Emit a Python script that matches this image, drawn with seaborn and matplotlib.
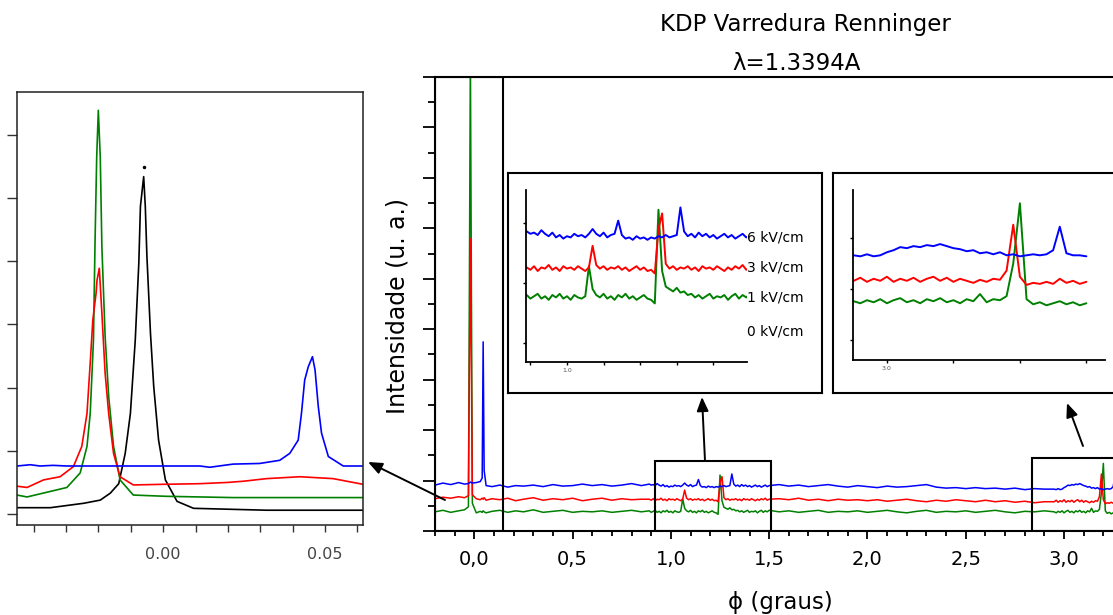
import matplotlib
matplotlib.use('Agg')
import matplotlib.pyplot as plt
import seaborn as sns
from matplotlib.patches import Rectangle, FancyArrowPatch
from matplotlib.ticker import MultipleLocator, FixedLocator

# ---- Renninger scan, phi in degrees, intensity in arbitrary units ----
phi = [-0.20, -0.16, -0.12, -0.08, -0.05, -0.03, -0.02, -0.01, 0.01, 0.03,
       0.04, 0.045, 0.05, 0.06, 0.09, 0.13, 0.17, 0.21, 0.25, 0.30,
       0.35, 0.40, 0.45, 0.50, 0.55, 0.60, 0.65, 0.70, 0.75, 0.80, 0.85,
       0.89, 0.90, 0.91, 0.92, 0.93, 0.94, 0.95, 0.96, 0.97, 0.98,
       0.99, 1.00, 1.01, 1.02, 1.03, 1.04, 1.05, 1.06, 1.07, 1.08,
       1.09, 1.10, 1.11, 1.12, 1.13, 1.14, 1.15, 1.16, 1.17, 1.18,
       1.19, 1.20, 1.21, 1.22, 1.23, 1.24, 1.25, 1.26, 1.27, 1.28,
       1.29, 1.30, 1.31, 1.32, 1.33, 1.34, 1.35, 1.36, 1.37, 1.38,
       1.39, 1.40, 1.41, 1.42, 1.43, 1.44, 1.45, 1.46, 1.47, 1.48,
       1.49, 1.50,
       1.55, 1.60, 1.65, 1.70, 1.75, 1.80, 1.85, 1.90, 1.95, 2.00,
       2.05, 2.10, 2.15, 2.20, 2.25, 2.30, 2.35, 2.40, 2.45, 2.50,
       2.55, 2.60, 2.65, 2.70, 2.75, 2.80, 2.85, 2.90,
       2.95, 2.96, 2.97, 2.98, 2.99, 3.00, 3.01, 3.02, 3.03, 3.04,
       3.05, 3.06, 3.07, 3.08, 3.09, 3.10, 3.11, 3.12, 3.13, 3.14,
       3.15, 3.16, 3.17, 3.18, 3.19, 3.20, 3.21, 3.22, 3.23, 3.24,
       3.25, 3.26, 3.27, 3.28, 3.29, 3.30]

blue_6kv = [0.91, 0.95, 0.92, 0.96, 0.93, 0.94, 0.97, 0.95, 0.96, 0.98,
            1.05, 3.75, 1.20, 0.90, 0.88, 0.91, 0.87, 0.90, 0.89, 0.91,
            0.88, 0.92, 0.89, 0.90, 0.93, 0.90, 0.92, 0.89, 0.91, 0.94, 0.90,
            0.93, 0.91, 0.92, 0.90, 0.94, 0.91, 0.89, 0.92, 0.88, 0.90,
            0.87, 0.89, 0.88, 0.91, 0.89, 0.90, 0.88, 0.91, 0.95, 0.91,
            0.89, 0.92, 0.88, 0.90, 0.91, 1.02, 0.90, 0.87, 0.88, 0.86,
            0.89, 0.87, 0.88, 0.86, 0.88, 0.87, 0.89, 0.88, 0.90, 0.88,
            0.89, 0.90, 1.13, 0.93, 0.89, 0.91, 0.88, 0.92, 0.89, 0.91,
            0.88, 0.90, 0.87, 0.89, 0.91, 0.88, 0.90, 0.87, 0.89, 0.91,
            0.88, 0.90,
            0.92, 0.89, 0.91, 0.88, 0.90, 0.92, 0.89, 0.87, 0.90, 0.88,
            0.86, 0.89, 0.87, 0.88, 0.90, 0.92, 0.87, 0.85, 0.86, 0.84,
            0.86, 0.84, 0.85, 0.83, 0.85, 0.82, 0.84, 0.83,
            0.83, 0.82, 0.84, 0.82, 0.83, 0.86, 0.88, 0.91, 0.90, 0.92,
            0.91, 0.93, 0.92, 0.94, 0.92, 0.90, 0.89, 0.87, 0.88, 0.85,
            0.86, 0.84, 0.86, 0.83, 0.84, 0.82, 0.83, 0.84, 0.83, 0.84,
            0.88, 1.11, 0.85, 0.83, 0.83, 0.82]

red_3kv = [0.64, 0.67, 0.65, 0.68, 0.66, 0.70, 5.80, 0.72, 0.64, 0.62,
           0.65, 0.63, 0.66, 0.61, 0.64, 0.62, 0.65, 0.60, 0.63, 0.66,
           0.61, 0.64, 0.62, 0.65, 0.60, 0.63, 0.65, 0.61, 0.64, 0.62, 0.63,
           0.63, 0.61, 0.64, 0.60, 0.63, 0.62, 0.65, 0.61, 0.63, 0.60,
           0.64, 0.62, 0.63, 0.61, 0.64, 0.62, 0.60, 0.63, 0.81, 0.65,
           0.62, 0.64, 0.61, 0.63, 0.62, 0.64, 0.61, 0.63, 0.60, 0.62,
           0.64, 0.61, 0.63, 0.60, 0.61, 0.58, 0.95, 1.08, 0.66, 0.62,
           0.64, 0.61, 0.63, 0.62, 0.64, 0.61, 0.63, 0.60, 0.64, 0.62,
           0.63, 0.61, 0.64, 0.62, 0.60, 0.63, 0.61, 0.64, 0.62, 0.65,
           0.61, 0.63,
           0.64, 0.62, 0.65, 0.61, 0.63, 0.60, 0.63, 0.61, 0.62, 0.60,
           0.62, 0.59, 0.61, 0.63, 0.60, 0.58, 0.61, 0.59, 0.62, 0.60,
           0.58, 0.61, 0.58, 0.60, 0.57, 0.59, 0.56, 0.58,
           0.58, 0.61, 0.57, 0.60, 0.58, 0.62, 0.57, 0.60, 0.58, 0.61,
           0.57, 0.60, 0.62, 0.58, 0.61, 0.57, 0.60, 0.58, 0.56, 0.59,
           0.57, 0.60, 0.59, 0.68, 1.13, 0.62, 0.54, 0.56, 0.55, 0.57,
           0.55, 0.60, 0.56, 0.58, 0.55, 0.57]

green_1kv = [0.38, 0.41, 0.37, 0.40, 0.42, 0.48, 9.50, 0.55, 0.36, 0.39,
             0.37, 0.40, 0.38, 0.36, 0.39, 0.41, 0.37, 0.40, 0.38, 0.42,
             0.37, 0.39, 0.41, 0.37, 0.39, 0.38, 0.40, 0.37, 0.39, 0.41, 0.38,
             0.40, 0.37, 0.39, 0.41, 0.37, 0.39, 0.36, 0.40, 0.38, 0.41,
             0.37, 0.39, 0.36, 0.40, 0.38, 0.37, 0.39, 0.64, 0.45, 0.40,
             0.38, 0.41, 0.37, 0.39, 0.36, 0.40, 0.38, 0.41, 0.37, 0.39,
             0.36, 0.38, 0.40, 0.37, 0.36, 0.33, 1.11, 0.60, 0.47, 0.45,
             0.43, 0.46, 0.42, 0.43, 0.40, 0.41, 0.38, 0.40, 0.37, 0.39,
             0.41, 0.37, 0.39, 0.38, 0.40, 0.36, 0.39, 0.41, 0.37, 0.40,
             0.38, 0.41,
             0.38, 0.40, 0.37, 0.39, 0.41, 0.37, 0.39, 0.38, 0.40, 0.37,
             0.39, 0.41, 0.38, 0.36, 0.39, 0.41, 0.37, 0.39, 0.38, 0.40,
             0.37, 0.39, 0.41, 0.38, 0.36, 0.39, 0.38, 0.40,
             0.38, 0.36, 0.39, 0.37, 0.40, 0.36, 0.39, 0.41, 0.37, 0.39,
             0.36, 0.40, 0.38, 0.41, 0.37, 0.39, 0.36, 0.40, 0.38, 0.45,
             0.37, 0.40, 0.39, 0.43, 0.75, 1.34, 0.40, 0.35, 0.37, 0.34,
             0.36, 0.38, 0.35, 0.37, 0.34, 0.36]

# ---- fine scan around phi = 0 (left panel), incl. 0 kV/cm ----
phi0_blue = [-0.0451, -0.0410, -0.0380, -0.0340, -0.0297, -0.0200, -0.0100, 0.0000,
             0.0113, 0.0144, 0.0216, 0.0298, 0.0360, 0.0391, 0.0417, 0.0427,
             0.0437, 0.0448, 0.0461, 0.0469, 0.0479, 0.0489, 0.0510, 0.0556, 0.0617]
int0_blue = [0.76, 0.78, 0.76, 0.77, 0.76, 0.76, 0.76, 0.76,
             0.76, 0.74, 0.79, 0.80, 0.85, 0.96, 1.17, 1.59,
             2.12, 2.33, 2.49, 2.28, 1.70, 1.28, 0.91, 0.76, 0.76]

phi0_red = [-0.0451, -0.0420, -0.0369, -0.0318, -0.0277, -0.0251, -0.0235, -0.0225,
            -0.0217, -0.0207, -0.0204, -0.0197, -0.0189, -0.0179, -0.0168, -0.0153,
            -0.0133, -0.0092, 0.0000, 0.0113, 0.0200, 0.0250, 0.0319, 0.0422,
            0.0525, 0.0617]
int0_red = [0.44, 0.42, 0.54, 0.59, 0.75, 1.07, 1.59, 2.39,
            3.07, 3.49, 3.70, 3.89, 3.18, 2.23, 1.59, 0.96,
            0.59, 0.46, 0.47, 0.48, 0.50, 0.52, 0.56, 0.59,
            0.56, 0.47]

phi0_green = [-0.0451, -0.0420, -0.0379, -0.0297, -0.0256, -0.0235, -0.0225, -0.0215,
              -0.0210, -0.0205, -0.0200, -0.0194, -0.0189, -0.0179, -0.0168, -0.0153,
              -0.0133, -0.0092, 0.0010, 0.0216, 0.0422, 0.0617]
int0_green = [0.30, 0.27, 0.32, 0.42, 0.65, 1.07, 1.59, 2.75,
              4.34, 5.65, 6.39, 5.65, 4.23, 2.81, 1.86, 1.07,
              0.54, 0.30, 0.28, 0.26, 0.26, 0.26]

phi0_black = [-0.0451, -0.0348, -0.0245, -0.0194, -0.0163, -0.0137, -0.0117, -0.0101,
              -0.0086, -0.0075, -0.0070, -0.0060, -0.0055, -0.0050, -0.0039, -0.0029,
              -0.0014, 0.0007, 0.0043, 0.0094, 0.0319, 0.0617]
int0_black = [0.10, 0.10, 0.17, 0.22, 0.33, 0.48, 0.96, 1.59,
              2.75, 3.97, 4.87, 5.34, 4.87, 4.08, 2.86, 2.02,
              1.17, 0.54, 0.20, 0.09, 0.06, 0.06]

field_labels = ['6 kV/cm', '3 kV/cm', '1 kV/cm', '0 kV/cm']
main_ticks = [0.0, 0.5, 1.0, 1.5, 2.0, 2.5, 3.0]
main_tick_labels = ['0,0', '0,5', '1,0', '1,5', '2,0', '2,5', '3,0']

BLUE, RED, GREEN, BLACK = '#0000ff', '#ff0000', '#008000', '#000000'

sns.set_style('ticks', {'axes.edgecolor': 'black', 'xtick.color': 'black',
                        'ytick.color': 'black', 'text.color': 'black'})
plt.rcParams['font.family'] = ['DejaVu Sans']

W, H = 1113, 615


def box(l, t, r, b):
    # pixel box -> figure fraction [left, bottom, width, height]
    return [l / W, 1 - b / H, (r - l) / W, (b - t) / H]


def series(ax, x, y, color, lw, **kw):
    sns.lineplot(x=x, y=y, ax=ax, color=color, linewidth=lw, estimator=None,
                 sort=False, legend=False, **kw)


fig = plt.figure(figsize=(W / 100, H / 100), dpi=100)

# ---- main panel ----
ax = fig.add_axes(box(435, 77, 1123, 531))
for x_, y_, c in [(phi, green_1kv, GREEN), (phi, red_3kv, RED), (phi, blue_6kv, BLUE)]:
    series(ax, x_, y_, c, 1.1)
ax.set_xlim(-0.2, 3.3)
ax.set_ylim(0, 9)
ax.set_xticks(main_ticks)
ax.set_xticklabels(main_tick_labels, fontsize=14)
ax.xaxis.set_minor_locator(MultipleLocator(0.1))
ax.yaxis.set_major_locator(MultipleLocator(1))
ax.yaxis.set_minor_locator(MultipleLocator(0.5))
ax.tick_params(axis='y', which='major', direction='out', length=8.5, width=1.3, labelleft=False)
ax.tick_params(axis='y', which='minor', direction='out', length=5, width=1.3)
ax.tick_params(axis='x', which='major', direction='out', length=5.8, width=1.3, pad=8)
ax.tick_params(axis='x', which='minor', direction='out', length=3.6, width=1.3)
ax.set_xlabel('')
ax.set_ylabel('')
for s in ax.spines.values():
    s.set_linewidth(1.5)

# zoom boxes on main panel
for (x0, x1, y1) in [(-0.2, 0.145, 9), (0.919, 1.509, 1.39), (2.837, 3.45, 1.45)]:
    ax.add_patch(Rectangle((x0, 0), x1 - x0, y1, fill=False, lw=1.5, ec='black', zorder=5))

fig.text(805 / W, 1 - 25 / H, 'KDP Varredura Renninger', ha='center', va='center', fontsize=16.5)
fig.text(797 / W, 1 - 63 / H, '\u03bb=1.3394A', ha='center', va='center', fontsize=16.5)
fig.text(398 / W, 1 - 306 / H, 'Intensidade (u. a.)', rotation=90, ha='center', va='center', fontsize=17)
fig.text(780 / W, 1 - 603 / H, '\u03d5 (graus)', ha='center', va='center', fontsize=16.5)

# ---- left panel: around phi = 0 ----
axl = fig.add_axes(box(17, 92, 363, 525))
for x_, y_, c in [(phi0_black, int0_black, BLACK), (phi0_green, int0_green, GREEN),
                  (phi0_red, int0_red, RED), (phi0_blue, int0_blue, BLUE)]:
    series(axl, x_, y_, c, 1.2)
axl.plot([-0.0058], [5.49], marker='o', ms=1.5, color=BLACK)
axl.set_xlim(-0.0451, 0.0617)
axl.set_ylim(-0.174, 6.68)
axl.xaxis.set_major_locator(FixedLocator([0.0, 0.05]))
axl.set_xticklabels(['0.00', '0.05'], fontsize=11.5, color='#444444')
axl.xaxis.set_minor_locator(MultipleLocator(0.01))
axl.yaxis.set_major_locator(MultipleLocator(1))
axl.tick_params(axis='x', which='both', direction='out', length=5, width=1, pad=11, color='#333333')
axl.tick_params(axis='y', which='major', direction='out', length=7, width=1, labelleft=False, color='#333333')
for s in axl.spines.values():
    s.set_linewidth(1.1)
    s.set_color('#222222')

# ---- inset frames ----
inner_specs = [
    (box(508, 173, 822, 393), box(526, 190, 747, 362), (0.888, 1.492), (-0.158, 1.275),
     [0.9, 1.0, 1.1, 1.2, 1.3, 1.4], '1.0'),
    (box(833, 173, 1125, 393), box(853, 190, 1105, 360), (2.949, 3.328), (-0.196, 1.47),
     [3.0, 3.1, 3.2, 3.3], '3.0'),
]
inner_axes = []
for frame_box, inner_box, xl, yl, xt, lab in inner_specs:
    fr = fig.add_axes(frame_box)
    fr.set_xticks([])
    fr.set_yticks([])
    for s in fr.spines.values():
        s.set_linewidth(1.5)
    ai = fig.add_axes(inner_box)
    ai.patch.set_alpha(0)
    for x_, y_, c in [(phi, green_1kv, GREEN), (phi, red_3kv, RED), (phi, blue_6kv, BLUE)]:
        series(ai, x_, y_, c, 1.4)
    ai.set_xlim(*xl)
    ai.set_ylim(*yl)
    ai.set_xticks(xt)
    ai.set_xticklabels([lab if abs(t - float(lab)) < 1e-9 else '' for t in xt],
                       fontsize=4.5, color='#555555')
    ai.set_yticks([0, 0.5, 1.0])
    ai.tick_params(axis='both', direction='out', length=2.5, width=1, labelleft=False, pad=2)
    ai.spines['top'].set_visible(False)
    ai.spines['right'].set_visible(False)
    ai.spines['left'].set_linewidth(1.3)
    ai.spines['bottom'].set_linewidth(1.3)
    ai.set_xlabel('')
    ai.set_ylabel('')
    inner_axes.append(ai)

label_y = [0.88, 0.63, 0.38, 0.10]
for lab, yv in zip(field_labels, label_y):
    inner_axes[0].text(1.493, yv, lab, ha='left', va='center', fontsize=10, clip_on=False)

# ---- arrows ----
arrows = [((445, 500), (368, 462)), ((705, 461), (702, 397)), ((1083, 446), (1067, 403))]
for (xa, ya), (xb, yb) in arrows:
    fig.add_artist(FancyArrowPatch((xa / W, 1 - ya / H), (xb / W, 1 - yb / H),
                                   transform=fig.transFigure, color='black', lw=1.4,
                                   arrowstyle='-|>,head_length=0.6,head_width=0.25',
                                   mutation_scale=14, shrinkA=0, shrinkB=0))

fig.savefig('out.png', dpi=100)
